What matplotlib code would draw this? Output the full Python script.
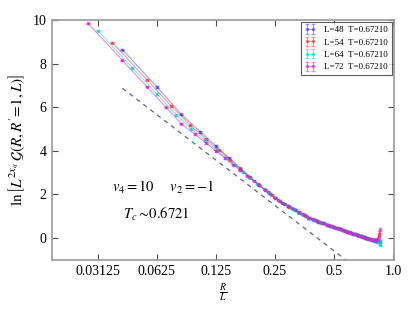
import matplotlib
matplotlib.use("Agg")
import matplotlib.pyplot as plt
import numpy as np

plt.rcParams['font.family'] = ['Liberation Serif', 'DejaVu Serif']
plt.rcParams['mathtext.fontset'] = 'stix'

sizes = [48, 54, 64, 72]
temps = ["0.67210", "0.67210", "0.67210", "0.67210"]
colors = ['#3c3cff', '#ff3030', '#00d8d8', '#d020d0']

R48 = list(range(2, 42))
v48 = [8.64, 6.93, 5.67, 4.87, 4.22, 3.68, 3.20, 2.78, 2.42, 2.12,
       1.86, 1.63, 1.47, 1.32, 1.17, 1.04, 0.92, 0.83, 0.76, 0.69,
       0.62, 0.56, 0.50, 0.45, 0.40, 0.35, 0.30, 0.26, 0.21, 0.17,
       0.13, 0.09, 0.05, 0.01, -0.02, -0.06, -0.09, -0.11, -0.14, -0.20]
R54 = list(range(2, 47))
v54 = [8.96, 7.26, 6.05, 5.17, 4.54, 4.02, 3.57, 3.17, 2.81, 2.49,
       2.22, 1.97, 1.74, 1.58, 1.43, 1.30, 1.18, 1.06, 0.94, 0.86,
       0.79, 0.73, 0.67, 0.61, 0.55, 0.50, 0.45, 0.41, 0.36, 0.32,
       0.28, 0.24, 0.20, 0.17, 0.13, 0.09, 0.05, 0.02, -0.01, -0.04,
       -0.07, -0.09, -0.10, -0.08, 0.20]
R64 = list(range(2, 56))
v64 = [9.51, 7.80, 6.60, 5.65, 5.00, 4.49, 4.06, 3.68, 3.34, 3.03,
       2.75, 2.50, 2.27, 2.06, 1.86, 1.68, 1.55, 1.43, 1.32, 1.21,
       1.11, 1.01, 0.92, 0.85, 0.80, 0.74, 0.69, 0.64, 0.59, 0.55,
       0.50, 0.46, 0.42, 0.39, 0.35, 0.31, 0.28, 0.25, 0.21, 0.18,
       0.15, 0.12, 0.09, 0.06, 0.03, 0.00, -0.02, -0.05, -0.08, -0.09,
       -0.10, -0.12, -0.16, -0.28]
R72 = list(range(2, 63))
v72 = [9.85, 8.15, 6.94, 6.00, 5.24, 4.77, 4.36, 3.99, 3.67, 3.37,
       3.11, 2.86, 2.63, 2.42, 2.22, 2.03, 1.86, 1.69, 1.58, 1.47,
       1.37, 1.27, 1.18, 1.09, 1.00, 0.92, 0.86, 0.81, 0.76, 0.71,
       0.67, 0.62, 0.58, 0.54, 0.50, 0.47, 0.44, 0.40, 0.36, 0.33,
       0.30, 0.27, 0.24, 0.21, 0.18, 0.16, 0.13, 0.10, 0.07, 0.05,
       0.02, 0.00, -0.02, -0.05, -0.07, -0.09, -0.10, -0.10, -0.07, 0.05,
       0.35]

err48 = [0.03] * 37 + [0.05, 0.07, 0.10]
err54 = [0.03] * 42 + [0.05, 0.08, 0.12]
err64 = [0.03] * 51 + [0.05, 0.07, 0.10]
err72 = [0.03] * 58 + [0.05, 0.08, 0.12]

Rs = [R48, R54, R64, R72]
vals = [v48, v54, v64, v72]
errs = [err48, err54, err64, err72]

ref_x = [0.0417, 0.60]
ref_y = [6.87, -1.13]

xticks = [0.03125, 0.0625, 0.125, 0.25, 0.5, 1.0]
xticklabels = ["0.03125", "0.0625", "0.125", "0.25", "0.5", "1.0"]
yticks = [0, 2, 4, 6, 8, 10]

fig = plt.figure(figsize=(4.15, 3.12), dpi=100)
ax = fig.add_axes([0.125, 0.167, 0.824, 0.769])

for L, T, c, R, v, e in zip(sizes, temps, colors, Rs, vals, errs):
    x = np.array(R) / L
    ax.errorbar(x, v, yerr=e, color=c, alpha=0.5, lw=0.8, marker='s', ms=1.5,
                mec=c, capsize=1.5, elinewidth=0.7,
                label=f"L={L}  T={T}")

ax.plot(ref_x, ref_y, color='0.4', lw=0.9, ls=(0, (3.5, 3.5)))

ax.set_xscale('log', base=2)
ax.set_xlim(0.0182, 1.01)
ax.set_ylim(-1, 10)
ax.set_xticks(xticks)
ax.set_xticklabels(xticklabels)
ax.xaxis.set_minor_locator(matplotlib.ticker.NullLocator())
ax.set_yticks(yticks)
ax.tick_params(direction='in', top=True, right=True, length=4, width=0.8,
               labelsize=10, color='0.3', pad=4)
for s in ax.spines.values():
    s.set_color('0.6')
    s.set_linewidth(1.2)

ax.set_xlabel(r'$\frac{R}{L}$', fontsize=10, labelpad=2)
ax.set_ylabel(r"$\ln\left[L^{2x_q}\,\mathcal{G}(R, R^{\prime}\!=\!1, L)\right]$", fontsize=11, labelpad=4)

ax.text(0.175, 0.3, r'$v_4=10\quad\;\; v_2=-1$', transform=ax.transAxes,
        fontsize=10.5, va='center')
ax.text(0.208, 0.19, r'$T_c \sim\!0.6721$', transform=ax.transAxes,
        fontsize=10.5, va='center')

leg = ax.legend(loc='upper right', numpoints=2, fontsize=6.5, frameon=True,
                fancybox=False, borderaxespad=0.25, handlelength=1.3,
                handletextpad=0.9, borderpad=0.4, labelspacing=0.45)
leg.get_frame().set_edgecolor('0.2')
leg.get_frame().set_linewidth(0.8)

fig.savefig('out.png', dpi=100)
